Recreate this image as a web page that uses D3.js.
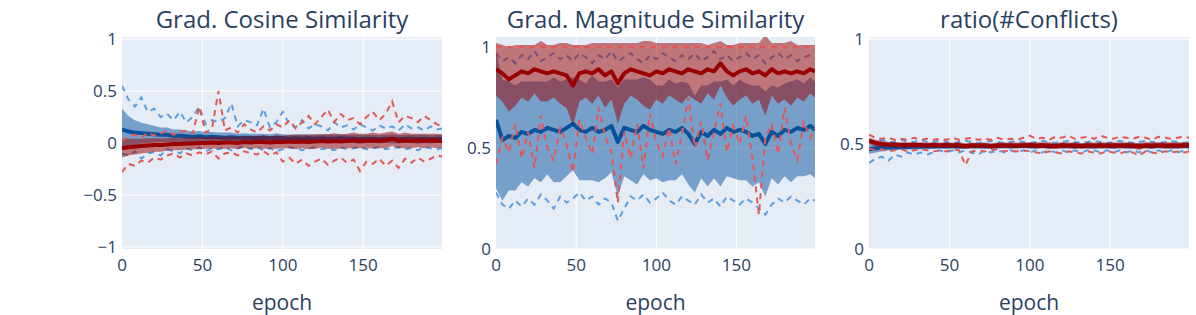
<!DOCTYPE html>
<html>
<head>
<meta charset="utf-8">
<script src="https://cdn.jsdelivr.net/npm/d3@7"></script>
<style>
  body { margin: 0; background: #fff; }
  text { font-family: "Open Sans", sans-serif; fill: #2a3f5f; }
</style>
</head>
<body>
<div id="chartEl"></div>
<script>
// epochs sampled every 4 (plus the last one)
const epochs = [0, 4, 8, 12, 16, 20, 24, 28, 32, 36, 40, 44, 48, 52, 56, 60, 64, 68, 72, 76,
  80, 84, 88, 92, 96, 100, 104, 108, 112, 116, 120, 124, 128, 132, 136, 140, 144, 148, 152, 156,
  160, 164, 168, 172, 176, 180, 184, 188, 192, 196, 199];
const xTicks = [0, 50, 100, 150];

const titles = ['Grad. Cosine Similarity', 'Grad. Magnitude Similarity', 'ratio(#Conflicts)'];

// --- Grad. Cosine Similarity
const cosBlueMean = [0.13, 0.11, 0.10, 0.095, 0.09, 0.085, 0.08, 0.08, 0.07, 0.07,
  0.065, 0.06, 0.065, 0.055, 0.06, 0.055, 0.05, 0.055, 0.05, 0.05,
  0.05, 0.045, 0.05, 0.045, 0.05, 0.045, 0.04, 0.045, 0.04, 0.045,
  0.04, 0.045, 0.04, 0.04, 0.045, 0.04, 0.04, 0.035, 0.04, 0.04,
  0.035, 0.04, 0.04, 0.035, 0.04, 0.04, 0.035, 0.04, 0.035, 0.04, 0.04];
const cosBlueStd = [0.2, 0.15, 0.12, 0.1, 0.09, 0.08, 0.07, 0.07, 0.06, 0.06,
  0.055, 0.05, 0.05, 0.05, 0.045, 0.045, 0.05, 0.045, 0.04, 0.045,
  0.04, 0.045, 0.04, 0.04, 0.045, 0.04, 0.04, 0.04, 0.045, 0.04,
  0.04, 0.04, 0.045, 0.04, 0.04, 0.04, 0.04, 0.045, 0.04, 0.04,
  0.04, 0.04, 0.045, 0.04, 0.04, 0.04, 0.045, 0.04, 0.04, 0.04, 0.04];
const cosBlueMax = [0.55, 0.42, 0.35, 0.44, 0.30, 0.33, 0.25, 0.28, 0.22, 0.30,
  0.20, 0.25, 0.35, 0.18, 0.22, 0.20, 0.24, 0.38, 0.16, 0.22,
  0.20, 0.17, 0.33, 0.15, 0.20, 0.30, 0.18, 0.15, 0.22, 0.14,
  0.18, 0.16, 0.12, 0.20, 0.15, 0.17, 0.13, 0.18, 0.15, 0.12,
  0.17, 0.14, 0.16, 0.12, 0.18, 0.14, 0.15, 0.12, 0.16, 0.13, 0.14];
const cosBlueMin = [-0.10, -0.12, -0.08, -0.15, -0.10, -0.09, -0.12, -0.06, -0.08, -0.10,
  -0.05, -0.07, -0.04, -0.08, -0.05, -0.06, -0.04, -0.07, -0.05, -0.03,
  -0.06, -0.04, -0.07, -0.05, -0.08, -0.06, -0.04, -0.05, -0.07, -0.05,
  -0.04, -0.06, -0.05, -0.07, -0.04, -0.06, -0.05, -0.04, -0.06, -0.05,
  -0.04, -0.06, -0.05, -0.04, -0.06, -0.05, -0.07, -0.04, -0.05, -0.06, -0.05];
const cosRedMean = [-0.05, -0.04, -0.035, -0.03, -0.025, -0.02, -0.02, -0.015, -0.01, -0.01,
  -0.005, -0.005, 0.0, 0.0, 0.005, 0.0, 0.005, 0.005, 0.0, 0.01,
  0.005, 0.01, 0.01, 0.005, 0.01, 0.01, 0.015, 0.01, 0.015, 0.01,
  0.015, 0.02, 0.015, 0.02, 0.015, 0.02, 0.025, 0.02, 0.02, 0.025,
  0.02, 0.025, 0.04, 0.02, 0.025, 0.02, 0.025, 0.02, 0.025, 0.02, 0.02];
const cosRedStd = [0.09, 0.08, 0.075, 0.07, 0.07, 0.065, 0.065, 0.06, 0.06, 0.06,
  0.06, 0.055, 0.06, 0.055, 0.06, 0.055, 0.06, 0.055, 0.06, 0.055,
  0.06, 0.06, 0.065, 0.06, 0.065, 0.06, 0.065, 0.07, 0.065, 0.07,
  0.07, 0.065, 0.07, 0.075, 0.07, 0.07, 0.075, 0.07, 0.07, 0.075,
  0.07, 0.075, 0.07, 0.07, 0.075, 0.07, 0.065, 0.07, 0.065, 0.07, 0.065];
const cosRedMax = [0.02, 0.06, 0.08, 0.05, 0.10, 0.07, 0.09, 0.12, 0.08, 0.10,
  0.12, 0.09, 0.35, 0.10, 0.14, 0.50, 0.12, 0.15, 0.10, 0.18,
  0.13, 0.10, 0.16, 0.12, 0.18, 0.15, 0.22, 0.14, 0.20, 0.26,
  0.18, 0.25, 0.32, 0.20, 0.28, 0.22, 0.24, 0.18, 0.25, 0.30,
  0.22, 0.28, 0.40, 0.20, 0.26, 0.24, 0.20, 0.26, 0.22, 0.18, 0.16];
const cosRedMin = [-0.28, -0.20, -0.22, -0.17, -0.19, -0.14, -0.16, -0.12, -0.10, -0.14,
  -0.10, -0.12, -0.09, -0.11, -0.08, -0.15, -0.10, -0.09, -0.12, -0.08,
  -0.10, -0.11, -0.08, -0.12, -0.09, -0.18, -0.14, -0.20, -0.16, -0.22,
  -0.18, -0.15, -0.21, -0.17, -0.14, -0.19, -0.16, -0.27, -0.18, -0.20,
  -0.15, -0.22, -0.17, -0.24, -0.15, -0.19, -0.14, -0.18, -0.15, -0.12, -0.13];

// --- Grad. Magnitude Similarity
const magBlueMean = [0.64, 0.54, 0.56, 0.55, 0.58, 0.57, 0.59, 0.58, 0.60, 0.59,
  0.58, 0.60, 0.62, 0.59, 0.58, 0.60, 0.58, 0.59, 0.61, 0.53,
  0.60, 0.59, 0.58, 0.61, 0.59, 0.58, 0.57, 0.59, 0.58, 0.60,
  0.57, 0.52, 0.58, 0.56, 0.59, 0.57, 0.60, 0.58, 0.59, 0.58,
  0.56, 0.57, 0.52, 0.58, 0.56, 0.59, 0.58, 0.60, 0.59, 0.61, 0.59];
const magBlueStd = [0.34, 0.30, 0.27, 0.26, 0.25, 0.26, 0.24, 0.25, 0.23, 0.26,
  0.25, 0.24, 0.23, 0.25, 0.24, 0.26, 0.25, 0.24, 0.23, 0.27,
  0.24, 0.25, 0.26, 0.24, 0.25, 0.23, 0.24, 0.25, 0.24, 0.23,
  0.25, 0.24, 0.23, 0.25, 0.24, 0.26, 0.24, 0.23, 0.25, 0.24,
  0.25, 0.24, 0.26, 0.23, 0.24, 0.23, 0.25, 0.24, 0.23, 0.24, 0.24];
const magBlueMax = [0.97, 0.93, 0.95, 0.92, 0.96, 0.94, 0.98, 0.93, 0.95, 0.97,
  0.94, 0.96, 0.93, 0.97, 0.95, 0.92, 0.96, 0.94, 0.98, 0.93,
  0.95, 0.97, 0.94, 0.92, 0.96, 0.94, 0.97, 0.95, 0.93, 0.96,
  0.94, 0.97, 0.93, 0.95, 0.98, 0.94, 0.96, 0.93, 0.95, 0.97,
  0.94, 0.96, 0.92, 0.95, 0.97, 0.94, 0.96, 0.93, 0.95, 0.96, 0.95];
const magBlueMin = [0.28, 0.22, 0.20, 0.24, 0.21, 0.25, 0.22, 0.27, 0.24, 0.20,
  0.26, 0.23, 0.25, 0.28, 0.24, 0.26, 0.22, 0.25, 0.23, 0.14,
  0.20, 0.26, 0.24, 0.27, 0.23, 0.25, 0.28, 0.24, 0.22, 0.26,
  0.24, 0.22, 0.27, 0.23, 0.25, 0.21, 0.26, 0.24, 0.22, 0.25,
  0.23, 0.20, 0.17, 0.22, 0.25, 0.23, 0.26, 0.24, 0.22, 0.25, 0.24];
const magRedMean = [0.89, 0.87, 0.84, 0.86, 0.88, 0.87, 0.89, 0.88, 0.87, 0.88,
  0.87, 0.86, 0.81, 0.87, 0.88, 0.87, 0.89, 0.86, 0.88, 0.82,
  0.87, 0.89, 0.88, 0.87, 0.86, 0.88, 0.87, 0.89, 0.88, 0.87,
  0.89, 0.88, 0.87, 0.89, 0.88, 0.92, 0.88, 0.86, 0.88, 0.89,
  0.87, 0.88, 0.86, 0.89, 0.87, 0.88, 0.87, 0.88, 0.87, 0.89, 0.88];
const magRedStd = [0.13, 0.14, 0.16, 0.15, 0.13, 0.14, 0.12, 0.15, 0.14, 0.13,
  0.15, 0.16, 0.20, 0.14, 0.13, 0.15, 0.13, 0.16, 0.14, 0.20,
  0.15, 0.13, 0.14, 0.16, 0.17, 0.14, 0.15, 0.13, 0.14, 0.15,
  0.13, 0.14, 0.15, 0.12, 0.14, 0.11, 0.13, 0.15, 0.14, 0.13,
  0.15, 0.14, 0.20, 0.13, 0.15, 0.14, 0.16, 0.13, 0.14, 0.12, 0.13];
const magRedMax = [1, 1, 1, 1, 1, 1, 1, 1, 1, 1, 1, 1, 1, 1, 1, 1, 1, 1, 1, 1,
  1, 1, 1, 1, 1, 1, 1, 1, 1, 1, 1, 1, 1, 1, 1, 1, 1, 1, 1, 1,
  1, 1, 1, 1, 1, 1, 1, 1, 1, 1, 1];
const magRedMin = [0.42, 0.55, 0.48, 0.62, 0.45, 0.58, 0.40, 0.66, 0.50, 0.44,
  0.60, 0.52, 0.38, 0.64, 0.55, 0.47, 0.70, 0.56, 0.48, 0.23,
  0.58, 0.45, 0.62, 0.40, 0.67, 0.53, 0.46, 0.60, 0.42, 0.57,
  0.75, 0.50, 0.63, 0.44, 0.58, 0.72, 0.48, 0.61, 0.52, 0.66,
  0.45, 0.17, 0.55, 0.62, 0.47, 0.70, 0.52, 0.44, 0.63, 0.55, 0.60];

// --- ratio(#Conflicts)
const ratioBlueMean = [0.475, 0.48, 0.482, 0.485, 0.484, 0.487, 0.486, 0.488, 0.487, 0.489,
  0.488, 0.49, 0.489, 0.49, 0.488, 0.49, 0.491, 0.49, 0.489, 0.491,
  0.49, 0.492, 0.49, 0.491, 0.492, 0.49, 0.491, 0.492, 0.49, 0.491,
  0.492, 0.491, 0.49, 0.492, 0.491, 0.49, 0.492, 0.491, 0.49, 0.492,
  0.491, 0.49, 0.492, 0.491, 0.49, 0.492, 0.491, 0.49, 0.491, 0.492, 0.491];
const ratioBlueStd = [0.022, 0.02, 0.018, 0.016, 0.015, 0.014, 0.013, 0.013, 0.012, 0.012,
  0.012, 0.011, 0.012, 0.011, 0.012, 0.011, 0.012, 0.011, 0.012, 0.011,
  0.012, 0.011, 0.012, 0.011, 0.012, 0.011, 0.012, 0.011, 0.012, 0.011,
  0.012, 0.011, 0.012, 0.011, 0.012, 0.011, 0.012, 0.011, 0.012, 0.011,
  0.012, 0.011, 0.012, 0.011, 0.012, 0.011, 0.012, 0.011, 0.012, 0.011, 0.012];
const ratioBlueMax = [0.52, 0.51, 0.52, 0.51, 0.51, 0.52, 0.51, 0.51, 0.52, 0.51,
  0.51, 0.515, 0.51, 0.505, 0.51, 0.515, 0.51, 0.505, 0.51, 0.515,
  0.51, 0.505, 0.51, 0.515, 0.51, 0.505, 0.51, 0.515, 0.51, 0.505,
  0.51, 0.515, 0.51, 0.505, 0.51, 0.515, 0.51, 0.505, 0.51, 0.515,
  0.51, 0.505, 0.51, 0.515, 0.51, 0.505, 0.51, 0.515, 0.51, 0.505, 0.51];
const ratioBlueMin = [0.41, 0.43, 0.44, 0.42, 0.45, 0.44, 0.46, 0.45, 0.46, 0.45,
  0.46, 0.47, 0.46, 0.47, 0.46, 0.47, 0.46, 0.45, 0.47, 0.46,
  0.47, 0.46, 0.47, 0.46, 0.47, 0.46, 0.47, 0.46, 0.47, 0.46,
  0.47, 0.46, 0.47, 0.46, 0.47, 0.47, 0.46, 0.47, 0.46, 0.47,
  0.46, 0.47, 0.46, 0.47, 0.46, 0.47, 0.46, 0.47, 0.46, 0.47, 0.47];
const ratioRedMean = [0.515, 0.505, 0.50, 0.498, 0.497, 0.496, 0.495, 0.496, 0.495, 0.494,
  0.495, 0.494, 0.495, 0.494, 0.495, 0.49, 0.494, 0.493, 0.494, 0.49,
  0.494, 0.493, 0.494, 0.493, 0.494, 0.495, 0.493, 0.494, 0.493, 0.49,
  0.494, 0.493, 0.494, 0.49, 0.494, 0.493, 0.494, 0.493, 0.494, 0.493,
  0.494, 0.493, 0.488, 0.494, 0.493, 0.494, 0.493, 0.494, 0.493, 0.494, 0.494];
const ratioRedStd = [0.016, 0.015, 0.014, 0.013, 0.013, 0.012, 0.013, 0.012, 0.013, 0.012,
  0.013, 0.012, 0.013, 0.012, 0.013, 0.014, 0.013, 0.012, 0.013, 0.014,
  0.013, 0.014, 0.013, 0.014, 0.013, 0.014, 0.015, 0.014, 0.015, 0.014,
  0.015, 0.014, 0.015, 0.014, 0.015, 0.014, 0.015, 0.014, 0.015, 0.014,
  0.015, 0.014, 0.016, 0.014, 0.015, 0.014, 0.015, 0.014, 0.015, 0.014, 0.015];
const ratioRedMax = [0.545, 0.53, 0.525, 0.53, 0.52, 0.525, 0.52, 0.53, 0.52, 0.525,
  0.52, 0.525, 0.52, 0.53, 0.52, 0.525, 0.53, 0.52, 0.525, 0.52,
  0.53, 0.52, 0.525, 0.52, 0.53, 0.54, 0.525, 0.53, 0.52, 0.535,
  0.53, 0.54, 0.525, 0.53, 0.535, 0.525, 0.54, 0.53, 0.525, 0.535,
  0.53, 0.525, 0.535, 0.53, 0.52, 0.535, 0.53, 0.525, 0.53, 0.535, 0.53];
const ratioRedMin = [0.48, 0.47, 0.475, 0.465, 0.47, 0.475, 0.465, 0.47, 0.475, 0.47,
  0.465, 0.47, 0.465, 0.475, 0.47, 0.40, 0.465, 0.47, 0.465, 0.47,
  0.475, 0.465, 0.47, 0.465, 0.47, 0.465, 0.46, 0.455, 0.465, 0.46,
  0.455, 0.465, 0.46, 0.455, 0.465, 0.46, 0.455, 0.465, 0.46, 0.455,
  0.465, 0.46, 0.445, 0.465, 0.46, 0.455, 0.465, 0.46, 0.465, 0.46, 0.465];

const colors = {
  blue: {mean: '#08519c', band: 'rgba(8,81,156,0.5)', dash: '#5e9edc'},
  red: {mean: '#990000', band: 'rgba(153,0,0,0.5)', dash: '#e25858'}
};

const width = 1196;
const height = 315;
const plotTop = 37;
const plotBottom = 249;

const panels = [
  {left: 122, right: 442, domain: [-1.02, 1.02], ticks: [-1, -0.5, 0, 0.5, 1],
    blue: [cosBlueMean, cosBlueStd, cosBlueMin, cosBlueMax],
    red: [cosRedMean, cosRedStd, cosRedMin, cosRedMax]},
  {left: 496, right: 815, domain: [0, 1.05], ticks: [0, 0.5, 1],
    blue: [magBlueMean, magBlueStd, magBlueMin, magBlueMax],
    red: [magRedMean, magRedStd, magRedMin, magRedMax]},
  {left: 869, right: 1189, domain: [0, 1.01], ticks: [0, 0.5, 1],
    blue: [ratioBlueMean, ratioBlueStd, ratioBlueMin, ratioBlueMax],
    red: [ratioRedMean, ratioRedStd, ratioRedMin, ratioRedMax]}
];

const fmt = v => String(v).replace('-', '\u2212');

const svg = d3.select('#chartEl').append('svg')
  .attr('width', width)
  .attr('height', height)
  .style('display', 'block');

svg.append('rect').attr('width', width).attr('height', height).attr('fill', '#fff');

panels.forEach((p, i) => {
  const x = d3.scaleLinear().domain([0, 199]).range([p.left, p.right]);
  const y = d3.scaleLinear().domain(p.domain).range([plotBottom, plotTop]);
  const g = svg.append('g').attr('class', 'panel');

  g.append('defs').append('clipPath').attr('id', 'clip' + i)
    .append('rect')
    .attr('x', p.left).attr('y', plotTop)
    .attr('width', p.right - p.left).attr('height', plotBottom - plotTop);

  g.append('rect')
    .attr('x', p.left).attr('y', plotTop)
    .attr('width', p.right - p.left).attr('height', plotBottom - plotTop)
    .attr('fill', '#e5ecf6');

  g.selectAll('line.vgrid').data(xTicks.slice(1)).enter().append('line')
    .attr('class', 'vgrid')
    .attr('x1', d => x(d)).attr('x2', d => x(d))
    .attr('y1', plotTop).attr('y2', plotBottom)
    .attr('stroke', '#fff').attr('stroke-width', 1);

  g.selectAll('line.hgrid').data(p.ticks).enter().append('line')
    .attr('class', 'hgrid')
    .attr('x1', p.left).attr('x2', p.right)
    .attr('y1', d => y(d)).attr('y2', d => y(d))
    .attr('stroke', '#fff').attr('stroke-width', 1);

  const plot = g.append('g').attr('clip-path', 'url(#clip' + i + ')');

  ['blue', 'red'].forEach(key => {
    const [mean, std, mn, mx] = p[key];
    const c = colors[key];
    const pts = epochs.map((e, j) => ({e: e, m: mean[j], lo: mean[j] - std[j], hi: mean[j] + std[j],
      mn: mn[j], mx: mx[j]}));

    const band = d3.area()
      .x(d => x(d.e))
      .y0(d => y(d.lo))
      .y1(d => y(d.hi));
    plot.append('path')
      .attr('d', band(pts))
      .attr('fill', c.band)
      .attr('stroke', 'none');

    ['mn', 'mx'].forEach(k => {
      const line = d3.line().x(d => x(d.e)).y(d => y(d[k]));
      plot.append('path')
        .attr('d', line(pts))
        .attr('fill', 'none')
        .attr('stroke', c.dash)
        .attr('stroke-width', 2)
        .attr('stroke-dasharray', '6,5');
    });

    const meanLine = d3.line().x(d => x(d.e)).y(d => y(d.m));
    plot.append('path')
      .attr('d', meanLine(pts))
      .attr('fill', 'none')
      .attr('stroke', c.mean)
      .attr('stroke-width', 4)
      .attr('stroke-linejoin', 'round');
  });

  // tick labels
  g.selectAll('text.xt').data(xTicks).enter().append('text')
    .attr('class', 'xt')
    .attr('x', d => x(d)).attr('y', 271)
    .attr('text-anchor', 'middle')
    .attr('font-size', 17)
    .text(d => d);

  g.selectAll('text.yt').data(p.ticks).enter().append('text')
    .attr('class', 'yt')
    .attr('x', p.left - 5).attr('y', d => y(d) + 6)
    .attr('text-anchor', 'end')
    .attr('font-size', 17)
    .text(d => fmt(d));

  g.append('text')
    .attr('x', (p.left + p.right) / 2).attr('y', 28)
    .attr('text-anchor', 'middle')
    .attr('font-size', 24)
    .text(titles[i]);

  g.append('text')
    .attr('x', (p.left + p.right) / 2).attr('y', 310)
    .attr('text-anchor', 'middle')
    .attr('font-size', 21)
    .text('epoch');
});
</script>
</body>
</html>
